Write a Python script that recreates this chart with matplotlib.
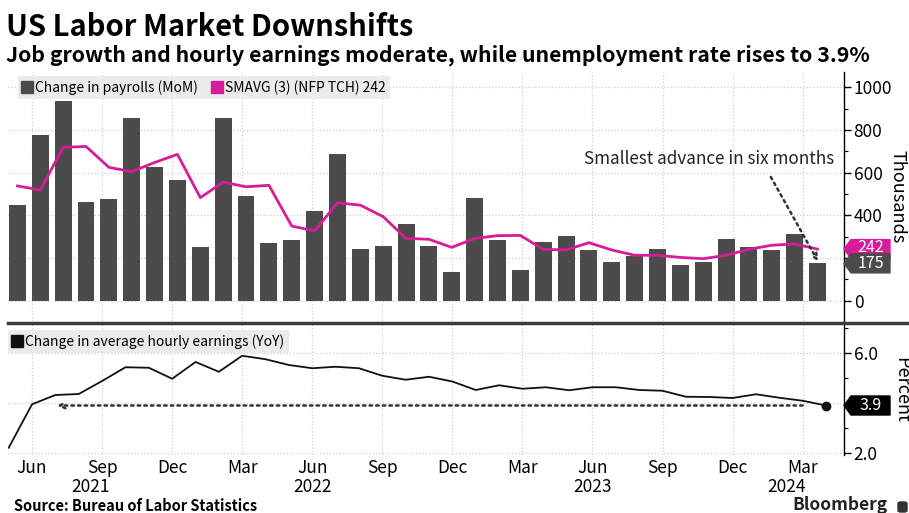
import matplotlib
matplotlib.use("Agg")
import matplotlib.pyplot as plt
from matplotlib.lines import Line2D
from matplotlib.patches import Polygon, FancyBboxPatch
from matplotlib.transforms import blended_transform_factory
import numpy as np
import pandas as pd

# ---- data ----
months = pd.period_range("2021-05", "2024-04", freq="M")
payrolls = [448, 776, 936, 462, 477, 858, 628, 564, 252, 858, 491, 272,
            286, 420, 689, 244, 255, 359, 258, 134, 480, 284, 144, 275,
            303, 239, 183, 209, 244, 166, 180, 289, 253, 236, 314, 175]
smavg = [538, 519, 719, 723, 625, 605, 648, 686, 483, 556, 534, 541,
         350, 327, 459, 448, 394, 292, 288, 250, 292, 305, 306, 241,
         238, 272, 238, 213, 213, 203, 197, 213, 241, 260, 266, 242]
earnings = [2.21, 3.95, 4.32, 4.36, 4.88, 5.43, 5.41, 4.97, 5.64, 5.25, 5.89, 5.75,
            5.52, 5.39, 5.45, 5.39, 5.09, 4.93, 5.05, 4.86, 4.52, 4.71, 4.57, 4.63,
            4.51, 4.63, 4.63, 4.52, 4.49, 4.25, 4.24, 4.20, 4.35, 4.21, 4.09, 3.90]
year_labels = ["2021", "2022", "2023", "2024"]
year_pos = [3.5, 13, 25, 33.3]

BAR = "#4b4b4b"
PINK = "#d81b9b"
GRID = "#cfcfcf"

plt.rcParams["font.family"] = ["Noto Sans CJK JP", "DejaVu Sans"]

W, H = 909, 513
fig = plt.figure(figsize=(W / 100, H / 100), dpi=100)


def box(l, t, r, b):
    return [l / W, 1 - b / H, (r - l) / W, (b - t) / H]


ax1 = fig.add_axes(box(8, 72, 844, 321))
ax2 = fig.add_axes(box(8, 325, 844, 455))

x = np.arange(len(months))
qtr = x[np.isin(months.month, [3, 6, 9, 12])]

for ax in (ax1, ax2):
    ax.set_xlim(-0.03, 35.77)
    ax.set_xticks(qtr)
    ax.yaxis.tick_right()
    for s in ("left", "top", "bottom"):
        ax.spines[s].set_visible(False)
    ax.spines["right"].set_linewidth(1.0)
    ax.grid(True, color=GRID, ls=":", lw=0.9)
    ax.set_axisbelow(True)
    ax.tick_params(axis="y", which="major", length=5, width=1, labelsize=12.5, pad=2)
    ax.tick_params(axis="y", which="minor", length=3, width=0.8)
    ax.tick_params(axis="x", length=0)

# ---- top panel ----
ax1.set_ylim(-95, 1072)
ax1.set_yticks(range(0, 1001, 200))
ax1.set_yticklabels(["0", "", "400", "600", "800", "1000"])  # 200 sits under the tags
ax1.set_yticks(range(100, 1000, 200), minor=True)
ax1.set_xticklabels([])
ax1.set_ylabel("Thousands", rotation=270, fontsize=13, ha="center", va="center")
ax1.yaxis.set_label_coords(1.064, 0.5)

axb = ax1.twiny()
axb.set_xlim(-0.044, 36.53)
axb.set_xticks([])
for s in axb.spines.values():
    s.set_visible(False)
axb.bar(x, payrolls, width=0.74, align="edge", color=BAR, zorder=2)
axb.plot(x + 0.37, smavg, color=PINK, lw=2, zorder=3)

h1 = [Line2D([], [], marker="s", ls="", color=BAR, markersize=8),
      Line2D([], [], marker="s", ls="", color=PINK, markersize=8)]
leg = axb.legend(h1, ["Change in payrolls (MoM)", "SMAVG (3) (NFP TCH) 242"],
                 loc="upper left", bbox_to_anchor=(0.012, 1 - 4 / 249), ncol=2,
                 frameon=True, fancybox=False, facecolor="#ebebeb", edgecolor="none",
                 framealpha=1, fontsize=10, handlelength=0.7, handletextpad=0.25,
                 columnspacing=1.0, borderaxespad=0, borderpad=0.3)
leg.set_zorder(5)

axb.text(36.09, 664, "Smallest advance in six months", ha="right", va="center",
         fontsize=12.3, color="#222222", zorder=6)
axb.annotate("", xy=(35.39, 185), xytext=(33.33, 580),
             arrowprops=dict(arrowstyle="->", ls=":", lw=1.8, color="#333333",
                             shrinkA=0, shrinkB=0), zorder=6)

# ---- bottom panel ----
ax2.set_ylim(1.92, 7.12)
ax2.set_yticks([2, 4, 6])
ax2.set_yticklabels(["2.0", "", "6.0"])  # 4.0 sits under the tag
ax2.set_yticks([3, 5, 7], minor=True)
ax2.set_xticklabels(months[qtr].strftime("%b"), fontsize=12.5)
ax2.tick_params(axis="x", pad=3)
ax2.set_ylabel("Percent", rotation=270, fontsize=13, ha="center", va="center")
ax2.yaxis.set_label_coords(1.068, 0.5)
ax2.plot(x, earnings, color="#111111", lw=1.3, zorder=3)
ax2.plot(x[-1], earnings[-1], "o", color="#111111", markersize=6, zorder=4)
ax2.annotate("", xy=(2.07, earnings[-1]), xytext=(34, earnings[-1]),
             arrowprops=dict(arrowstyle="->", ls=":", lw=1.8, color="#333333",
                             shrinkA=0, shrinkB=0), zorder=4)
trx = blended_transform_factory(ax2.transData, ax2.transAxes)
for lab, p in zip(year_labels, year_pos):
    ax2.text(p, -0.25, lab, transform=trx, ha="center", va="center", fontsize=12.5)

h2 = [Line2D([], [], marker="s", ls="", color="#111111", markersize=8)]
leg2 = ax2.legend(h2, ["Change in average hourly earnings (YoY)"], loc="upper left",
                  bbox_to_anchor=(0.0, 1 - 5 / 130), frameon=True, fancybox=False,
                  facecolor="#ebebeb", edgecolor="none", framealpha=1, fontsize=10,
                  handlelength=0.7, handletextpad=0.25, borderaxespad=0, borderpad=0.3)


# ---- value tags at the right axis ----
def tag(ax, y, text, color, px_per_unit, dy=0):
    h = 9.5 / px_per_unit
    tr = blended_transform_factory(ax.transAxes, ax.transData)
    w, tip = 46 / 836, 7 / 836
    ax.add_patch(Polygon([[1, y], [1 + tip, y + h], [1 + w, y + h], [1 + w, y - h],
                          [1 + tip, y - h]], closed=True, transform=tr, clip_on=False,
                         color=color, zorder=10))
    ax.text(1 + tip + (w - tip) / 2, y + dy / px_per_unit, text, transform=tr,
            color="white", ha="center", va="center", fontsize=11.5, zorder=11, clip_on=False)


tag(axb, smavg[-1], f"{smavg[-1]}", PINK, 249 / 1167, dy=2)
tag(axb, payrolls[-1], f"{payrolls[-1]}", BAR, 249 / 1167)
tag(ax2, earnings[-1], f"{earnings[-1]:.1f}", "#000000", 130 / 5.2)

# separator between panels
fig.add_artist(Line2D([8 / W, 1], [1 - 322.5 / H] * 2, color="#3d3d3d", lw=2.5,
                      transform=fig.transFigure))

# ---- titles and footer ----
fig.text(6 / W, 1 - 36 / H, "US Labor Market Downshifts", fontsize=21, weight="bold",
         va="baseline")
fig.text(6 / W, 1 - 61 / H, "Job growth and hourly earnings moderate, while unemployment rate rises to 3.9%",
         fontsize=15.3, weight="bold", va="baseline")
fig.text(14 / W, 1 - 511 / H, "Source: Bureau of Labor Statistics", fontsize=10.5,
         weight="bold", va="baseline")
fig.text(888 / W, 1 - 510 / H, "Bloomberg", fontsize=12.5, weight="bold", ha="right",
         va="baseline", color="#222222")
fig.add_artist(FancyBboxPatch((898 / W, 1 - 512 / H), 9 / W, 10 / H,
                              boxstyle="round,pad=0,rounding_size=0.003",
                              transform=fig.transFigure, color="#333333"))

fig.savefig("out.png", dpi=100)
